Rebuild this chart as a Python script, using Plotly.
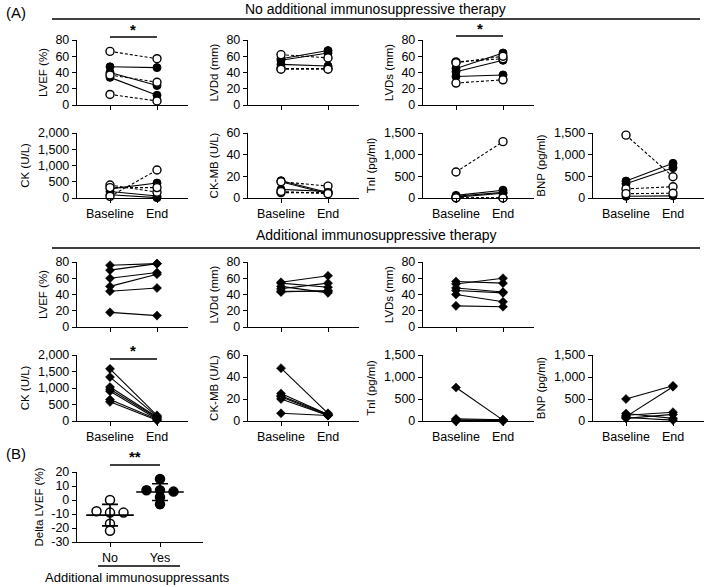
import numpy as np
import plotly.graph_objects as go

# ---- data: no additional immunosuppressive therapy (open = dashed, filled = solid)
no_lvef_open_base = [66, 37, 13]
no_lvef_open_end = [57, 28, 5]
no_lvef_fill_base = [47, 40, 34]
no_lvef_fill_end = [46, 24, 12]

no_lvdd_open_base = [62, 45, 44]
no_lvdd_open_end = [58, 45, 44]
no_lvdd_fill_base = [57, 55, 50]
no_lvdd_fill_end = [67, 64, 48]

no_lvds_open_base = [53, 52, 27]
no_lvds_open_end = [57, 60, 31]
no_lvds_fill_base = [45, 41, 35]
no_lvds_fill_end = [64, 55, 37]

no_ck_open_base = [400, 320, 50]
no_ck_open_end = [180, 320, 860]
no_ck_fill_base = [280, 200, 100]
no_ck_fill_end = [460, 60, 10]

no_ckmb_open_base = [15, 5, 6]
no_ckmb_open_end = [11, 5, 4]
no_ckmb_fill_base = [16, 8, 15]
no_ckmb_fill_end = [5, 6, 4]

no_tni_open_base = [600, 0, 5]
no_tni_open_end = [1300, 5, 0]
no_tni_fill_base = [60, 40, 20]
no_tni_fill_end = [180, 130, 110]

no_bnp_open_base = [1450, 210, 100]
no_bnp_open_end = [490, 260, 110]
no_bnp_fill_base = [390, 330, 40]
no_bnp_fill_end = [800, 700, 50]

# ---- data: additional immunosuppressive therapy
add_lvef_base = [76, 70, 60, 50, 44, 18]
add_lvef_end = [78, 78, 67, 65, 48, 14]
add_lvdd_base = [55, 54, 50, 47, 44, 43]
add_lvdd_end = [63, 49, 42, 54, 44, 45]
add_lvds_base = [56, 53, 48, 45, 40, 26]
add_lvds_end = [54, 60, 43, 42, 31, 25]
add_ck_base = [1580, 1330, 1030, 960, 900, 650, 580]
add_ck_end = [170, 140, 120, 100, 60, 50, 20]
add_ckmb_base = [48, 25, 23, 22, 20, 7]
add_ckmb_end = [7, 6, 6, 5, 5, 5]
add_tni_base = [760, 50, 30, 10, 0, 0]
add_tni_end = [20, 30, 20, 10, 5, 0]
add_bnp_base = [500, 100, 170, 130, 60, 80]
add_bnp_end = [800, 780, 60, 200, 150, 20]

# ---- panel B: delta LVEF
delta_no = [0, -8, -9, -9, -17, -22]
delta_yes = [15, 6, 7, 7, 2, -3]

W, H = 709, 587
FONT = "Arial, Liberation Sans, sans-serif"
COLS = [77, 248, 423, 593]
ROWS = [(40, 105), (133, 198), (262, 327), (355, 421)]
PW = 111

fig = go.Figure()
layout = {}
shapes = []
annots = []


def fx(p):
    return p / W


def fy(p):
    return 1 - p / H


def names(n):
    if n == 1:
        return 'xaxis', 'yaxis', 'x', 'y'
    return f'xaxis{n}', f'yaxis{n}', f'x{n}', f'y{n}'


def axis_style():
    return dict(showline=True, linecolor='black', linewidth=1.4, ticks='outside',
                ticklen=4, tickwidth=1.3, tickcolor='black', showgrid=False,
                zeroline=False, automargin=False, tickfont=dict(size=12.5, color='black'))


def add_panel(n, col, row, ymax, dtick, title, labels):
    xa, ya, xr, yr = names(n)
    x0 = COLS[col]
    top, bot = ROWS[row]
    vals = list(range(0, ymax + 1, dtick))
    layout[xa] = dict(axis_style(), domain=[fx(x0), fx(x0 + PW)], anchor=yr,
                      range=[-33 / 47, 78 / 47], tickvals=[0, 1],
                      ticktext=['Baseline', 'End'] if labels else ['', ''])
    layout[ya] = dict(axis_style(), domain=[fy(bot), fy(top)], anchor=xr,
                      range=[0, ymax], tickvals=vals,
                      ticktext=[f'{v:,}' for v in vals],
                      title=dict(text=title, font=dict(size=11.5), standoff=5))
    return xr, yr


def add_lines(refs, base, end, kind):
    xr, yr = refs
    if kind == 'open':
        marker = dict(symbol='circle', size=8, color='white', line=dict(color='black', width=1.4))
        dash = '3px,2px'
    elif kind == 'fill':
        marker = dict(symbol='circle', size=8, color='black', line=dict(color='black', width=1))
        dash = 'solid'
    else:
        marker = dict(symbol='diamond', size=7, color='black', line=dict(color='black', width=0.5))
        dash = 'solid'
    for b, e in zip(base, end):
        fig.add_trace(go.Scatter(x=[0, 1], y=[b, e], xaxis=xr, yaxis=yr,
                                 mode='lines+markers', marker=marker,
                                 line=dict(color='black', width=1.1, dash=dash),
                                 cliponaxis=False, showlegend=False, hoverinfo='skip'))


# row 1 / 2: no additional therapy
p = add_panel(1, 0, 0, 80, 20, 'LVEF (%)', False)
add_lines(p, no_lvef_fill_base, no_lvef_fill_end, 'fill')
add_lines(p, no_lvef_open_base, no_lvef_open_end, 'open')
p = add_panel(2, 1, 0, 80, 20, 'LVDd (mm)', False)
add_lines(p, no_lvdd_fill_base, no_lvdd_fill_end, 'fill')
add_lines(p, no_lvdd_open_base, no_lvdd_open_end, 'open')
p = add_panel(3, 2, 0, 80, 20, 'LVDs (mm)', False)
add_lines(p, no_lvds_fill_base, no_lvds_fill_end, 'fill')
add_lines(p, no_lvds_open_base, no_lvds_open_end, 'open')
p = add_panel(4, 0, 1, 2000, 500, 'CK (U/L)', True)
add_lines(p, no_ck_fill_base, no_ck_fill_end, 'fill')
add_lines(p, no_ck_open_base, no_ck_open_end, 'open')
p = add_panel(5, 1, 1, 60, 20, 'CK-MB (U/L)', True)
add_lines(p, no_ckmb_fill_base, no_ckmb_fill_end, 'fill')
add_lines(p, no_ckmb_open_base, no_ckmb_open_end, 'open')
p = add_panel(6, 2, 1, 1500, 500, 'TnI (pg/ml)', True)
add_lines(p, no_tni_fill_base, no_tni_fill_end, 'fill')
add_lines(p, no_tni_open_base, no_tni_open_end, 'open')
p = add_panel(7, 3, 1, 1500, 500, 'BNP (pg/ml)', True)
add_lines(p, no_bnp_fill_base, no_bnp_fill_end, 'fill')
add_lines(p, no_bnp_open_base, no_bnp_open_end, 'open')

# row 3 / 4: additional therapy
add_lines(add_panel(8, 0, 2, 80, 20, 'LVEF (%)', False), add_lvef_base, add_lvef_end, 'diamond')
add_lines(add_panel(9, 1, 2, 80, 20, 'LVDd (mm)', False), add_lvdd_base, add_lvdd_end, 'diamond')
add_lines(add_panel(10, 2, 2, 80, 20, 'LVDs (mm)', False), add_lvds_base, add_lvds_end, 'diamond')
add_lines(add_panel(11, 0, 3, 2000, 500, 'CK (U/L)', True), add_ck_base, add_ck_end, 'diamond')
add_lines(add_panel(12, 1, 3, 60, 20, 'CK-MB (U/L)', True), add_ckmb_base, add_ckmb_end, 'diamond')
add_lines(add_panel(13, 2, 3, 1500, 500, 'TnI (pg/ml)', True), add_tni_base, add_tni_end, 'diamond')
add_lines(add_panel(14, 3, 3, 1500, 500, 'BNP (pg/ml)', True), add_bnp_base, add_bnp_end, 'diamond')


# ---- panel B
def spread(vals, tol=3, step=0.27):
    order = sorted(range(len(vals)), key=lambda i: -vals[i])
    clusters = []
    for i in order:
        if clusters and abs(vals[clusters[-1][-1]] - vals[i]) <= tol:
            clusters[-1].append(i)
        else:
            clusters.append([i])
    offs = [0.0] * len(vals)
    for c in clusters:
        for j, i in enumerate(c):
            offs[i] = (j - (len(c) - 1) / 2) * step
    return offs


bvals = list(range(-30, 21, 10))
layout['xaxis15'] = dict(axis_style(), domain=[fx(77), fx(203)], anchor='y15',
                         range=[-0.66, 1.86], tickvals=[0, 1], ticktext=['No', 'Yes'])
layout['yaxis15'] = dict(axis_style(), domain=[fy(542), fy(472)], anchor='x15',
                         range=[-30, 20], tickvals=bvals, ticktext=[str(v) for v in bvals],
                         title=dict(text='Delta LVEF (%)', font=dict(size=11.5), standoff=5))

for gi, (vals, fill) in enumerate([(delta_no, 'white'), (delta_yes, 'black')]):
    offs = spread(vals)
    fig.add_trace(go.Scatter(x=[gi + o for o in offs], y=vals, xaxis='x15', yaxis='y15',
                             mode='markers', cliponaxis=False, showlegend=False,
                             marker=dict(symbol='circle', size=9, color=fill,
                                         line=dict(color='black', width=1.5))))
    m = float(np.mean(vals))
    sd = float(np.std(vals, ddof=1))
    fig.add_trace(go.Scatter(x=[gi], y=[m], xaxis='x15', yaxis='y15', mode='markers',
                             showlegend=False, cliponaxis=False,
                             marker=dict(symbol='line-ew', size=34, line=dict(color='black', width=1.6)),
                             error_y=dict(type='data', array=[sd], width=8, thickness=1.6, color='black')))


# ---- decorations
def hline(x0, x1, y, w=1.4):
    shapes.append(dict(type='line', xref='paper', yref='paper', x0=fx(x0), x1=fx(x1),
                       y0=fy(y), y1=fy(y), line=dict(color='black', width=w)))


def text(x, y, s, size=12, anchor='center'):
    annots.append(dict(xref='paper', yref='paper', x=fx(x), y=fy(y), text=s, showarrow=False,
                       xanchor=anchor, yanchor='middle', font=dict(size=size, color='black')))


text(4, 12, '(A)', 15, 'left')
text(376, 9, 'No additional immunosuppressive therapy', 14)
hline(52, 700, 19, 1.6)
text(376, 235, 'Additional immunosuppressive therapy', 14)
hline(52, 700, 248, 1.6)
text(4, 453, '(B)', 15, 'left')

hline(110, 157, 37)
text(133, 29, '<b>*</b>', 15)
hline(456, 503, 36)
text(480, 28, '<b>*</b>', 15)
hline(110, 157, 359)
text(133, 350, '<b>*</b>', 15)
hline(110, 160, 465)
text(135, 456, '<b>**</b>', 15)

hline(98, 180, 566)
text(137, 577, 'Additional immunosuppressants', 13)

fig.update_layout(width=W, height=H, margin=dict(l=0, r=0, t=0, b=0, autoexpand=False),
                  paper_bgcolor='white', plot_bgcolor='white',
                  font=dict(family=FONT, color='black', size=12),
                  shapes=shapes, annotations=annots, **layout)

# drop the browser's default body margin so the figure fills the window
fig.write_html("out.html", config={'displayModeBar': False},
               post_script="document.body.style.margin = '0';")
